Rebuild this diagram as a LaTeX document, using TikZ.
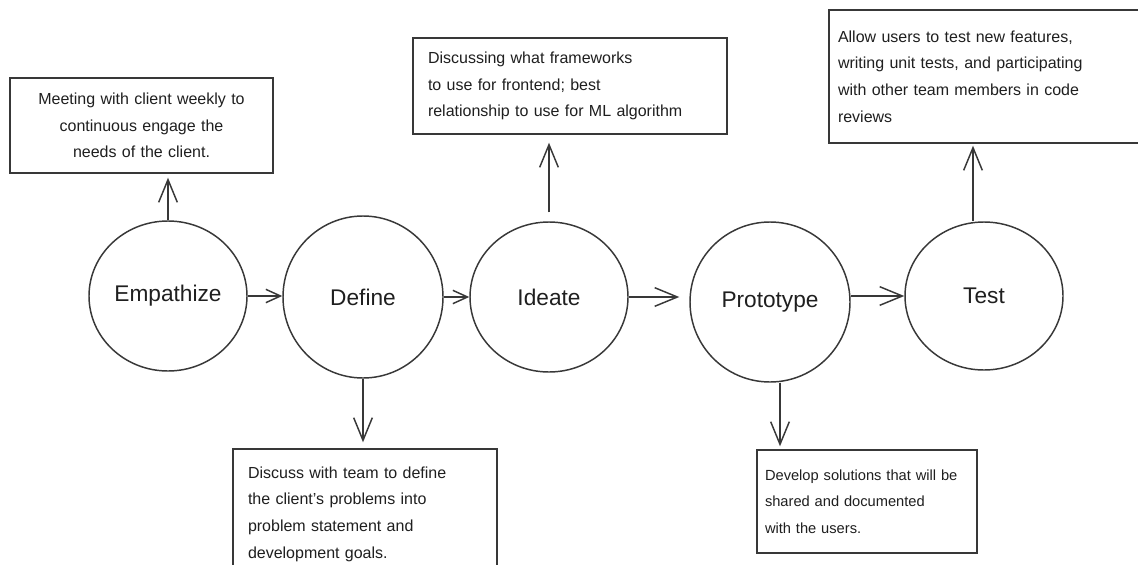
\documentclass[tikz,border=0pt]{standalone}
\usepackage{fontspec}
\setmainfont{Liberation Sans}
\usetikzlibrary{shapes.geometric,arrows.meta}
\begin{document}
\begin{tikzpicture}[x=0.75pt,y=-0.75pt,
  ink/.style={draw=black!78, line width=1.1pt},
  stage/.style={ink, ellipse, inner sep=0pt, font=\fontsize{17}{20}\selectfont, text=black!88},
  note/.style={ink, rectangle, inner ysep=0pt, font=\fontsize{12}{20}\selectfont, text=black!88},
  arr/.style={ink, -{Straight Barb[length=17pt,width=14pt,line width=1.1pt]}},
  sarr/.style={ink, -{Straight Barb[length=11pt,width=10pt,line width=1.1pt]}}]
\useasboundingbox[fill=white] (0,0) rectangle (1138,564);

% stages
\node[stage, minimum width=118.5pt, minimum height=112.5pt] (emp) at (168,296) {Empathize};
\node[stage, minimum width=120pt, minimum height=121.5pt] (def) at (363,297) {Define};
\node[stage, minimum width=118.5pt, minimum height=112.5pt] (ide) at (549,297) {Ideate};
\node[stage, minimum width=120pt, minimum height=120pt] (pro) at (770,302) {Prototype};
\node[stage, minimum width=118.5pt, minimum height=111pt] (tes) at (984,296) {Test};

% notes
\node[note, align=center, minimum width=197.25pt, minimum height=71.25pt,
      inner xsep=8.125pt, text width=181pt] (empbox) at (141.5,125.5)
  {Meeting with client weekly to\\ continuous engage the\\ needs of the client.};
\node[note, align=left, minimum width=235.5pt, minimum height=72pt,
      inner xsep=11.25pt, text width=213pt] (idebox) at (570,86)
  {Discussing what frameworks\\ to use for frontend; best\\ relationship to use for ML algorithm};
\node[note, align=left, minimum width=240.75pt, minimum height=99.75pt,
      inner xsep=6.75pt, text width=227.25pt] (tesbox) at (989.5,76.5)
  {Allow users to test new features,\\ writing unit tests, and participating\\ with other team members in code\\ reviews};
\node[note, align=left, minimum width=198pt, minimum height=97.5pt,
      inner xsep=11.25pt, text width=175.5pt] (defbox) at (365,514)
  {Discuss with team to define\\ the client's problems into\\ problem statement and\\ development goals.};
\node[note, align=left, minimum width=165pt, minimum height=77.25pt,
      inner xsep=6pt, text width=153pt, font=\fontsize{11}{20}\selectfont] (probox) at (867,501.5)
  {Develop solutions that will be\\ shared and documented\\ with the users.};

% flow arrows
\draw[sarr] (emp.east) -- (emp.east -| def.west);
\draw[sarr] (def.east) -- (def.east -| ide.west);
\draw[arr, shorten >=7.5pt] (ide.east) -- (ide.east -| pro.west);
\draw[arr] (tes.west -| pro.east) -- (tes.west);

% note arrows
\draw[arr, shorten >=3pt] (emp.north) -- (emp.north |- empbox.south);
\draw[arr, shorten <=6.75pt, shorten >=6pt] (ide.north) -- (ide.north |- idebox.south);
\draw[arr, shorten >=1.5pt] ([xshift=-8.25pt]tes.north) -- ([xshift=-8.25pt]tes.north |- tesbox.south);
\draw[arr, shorten >=4.5pt] (def.south) -- (def.south |- defbox.north);
\draw[arr, shorten >=2.25pt] ([xshift=7.5pt]pro.south) -- ([xshift=7.5pt]pro.south |- probox.north);
\end{tikzpicture}
\end{document}
